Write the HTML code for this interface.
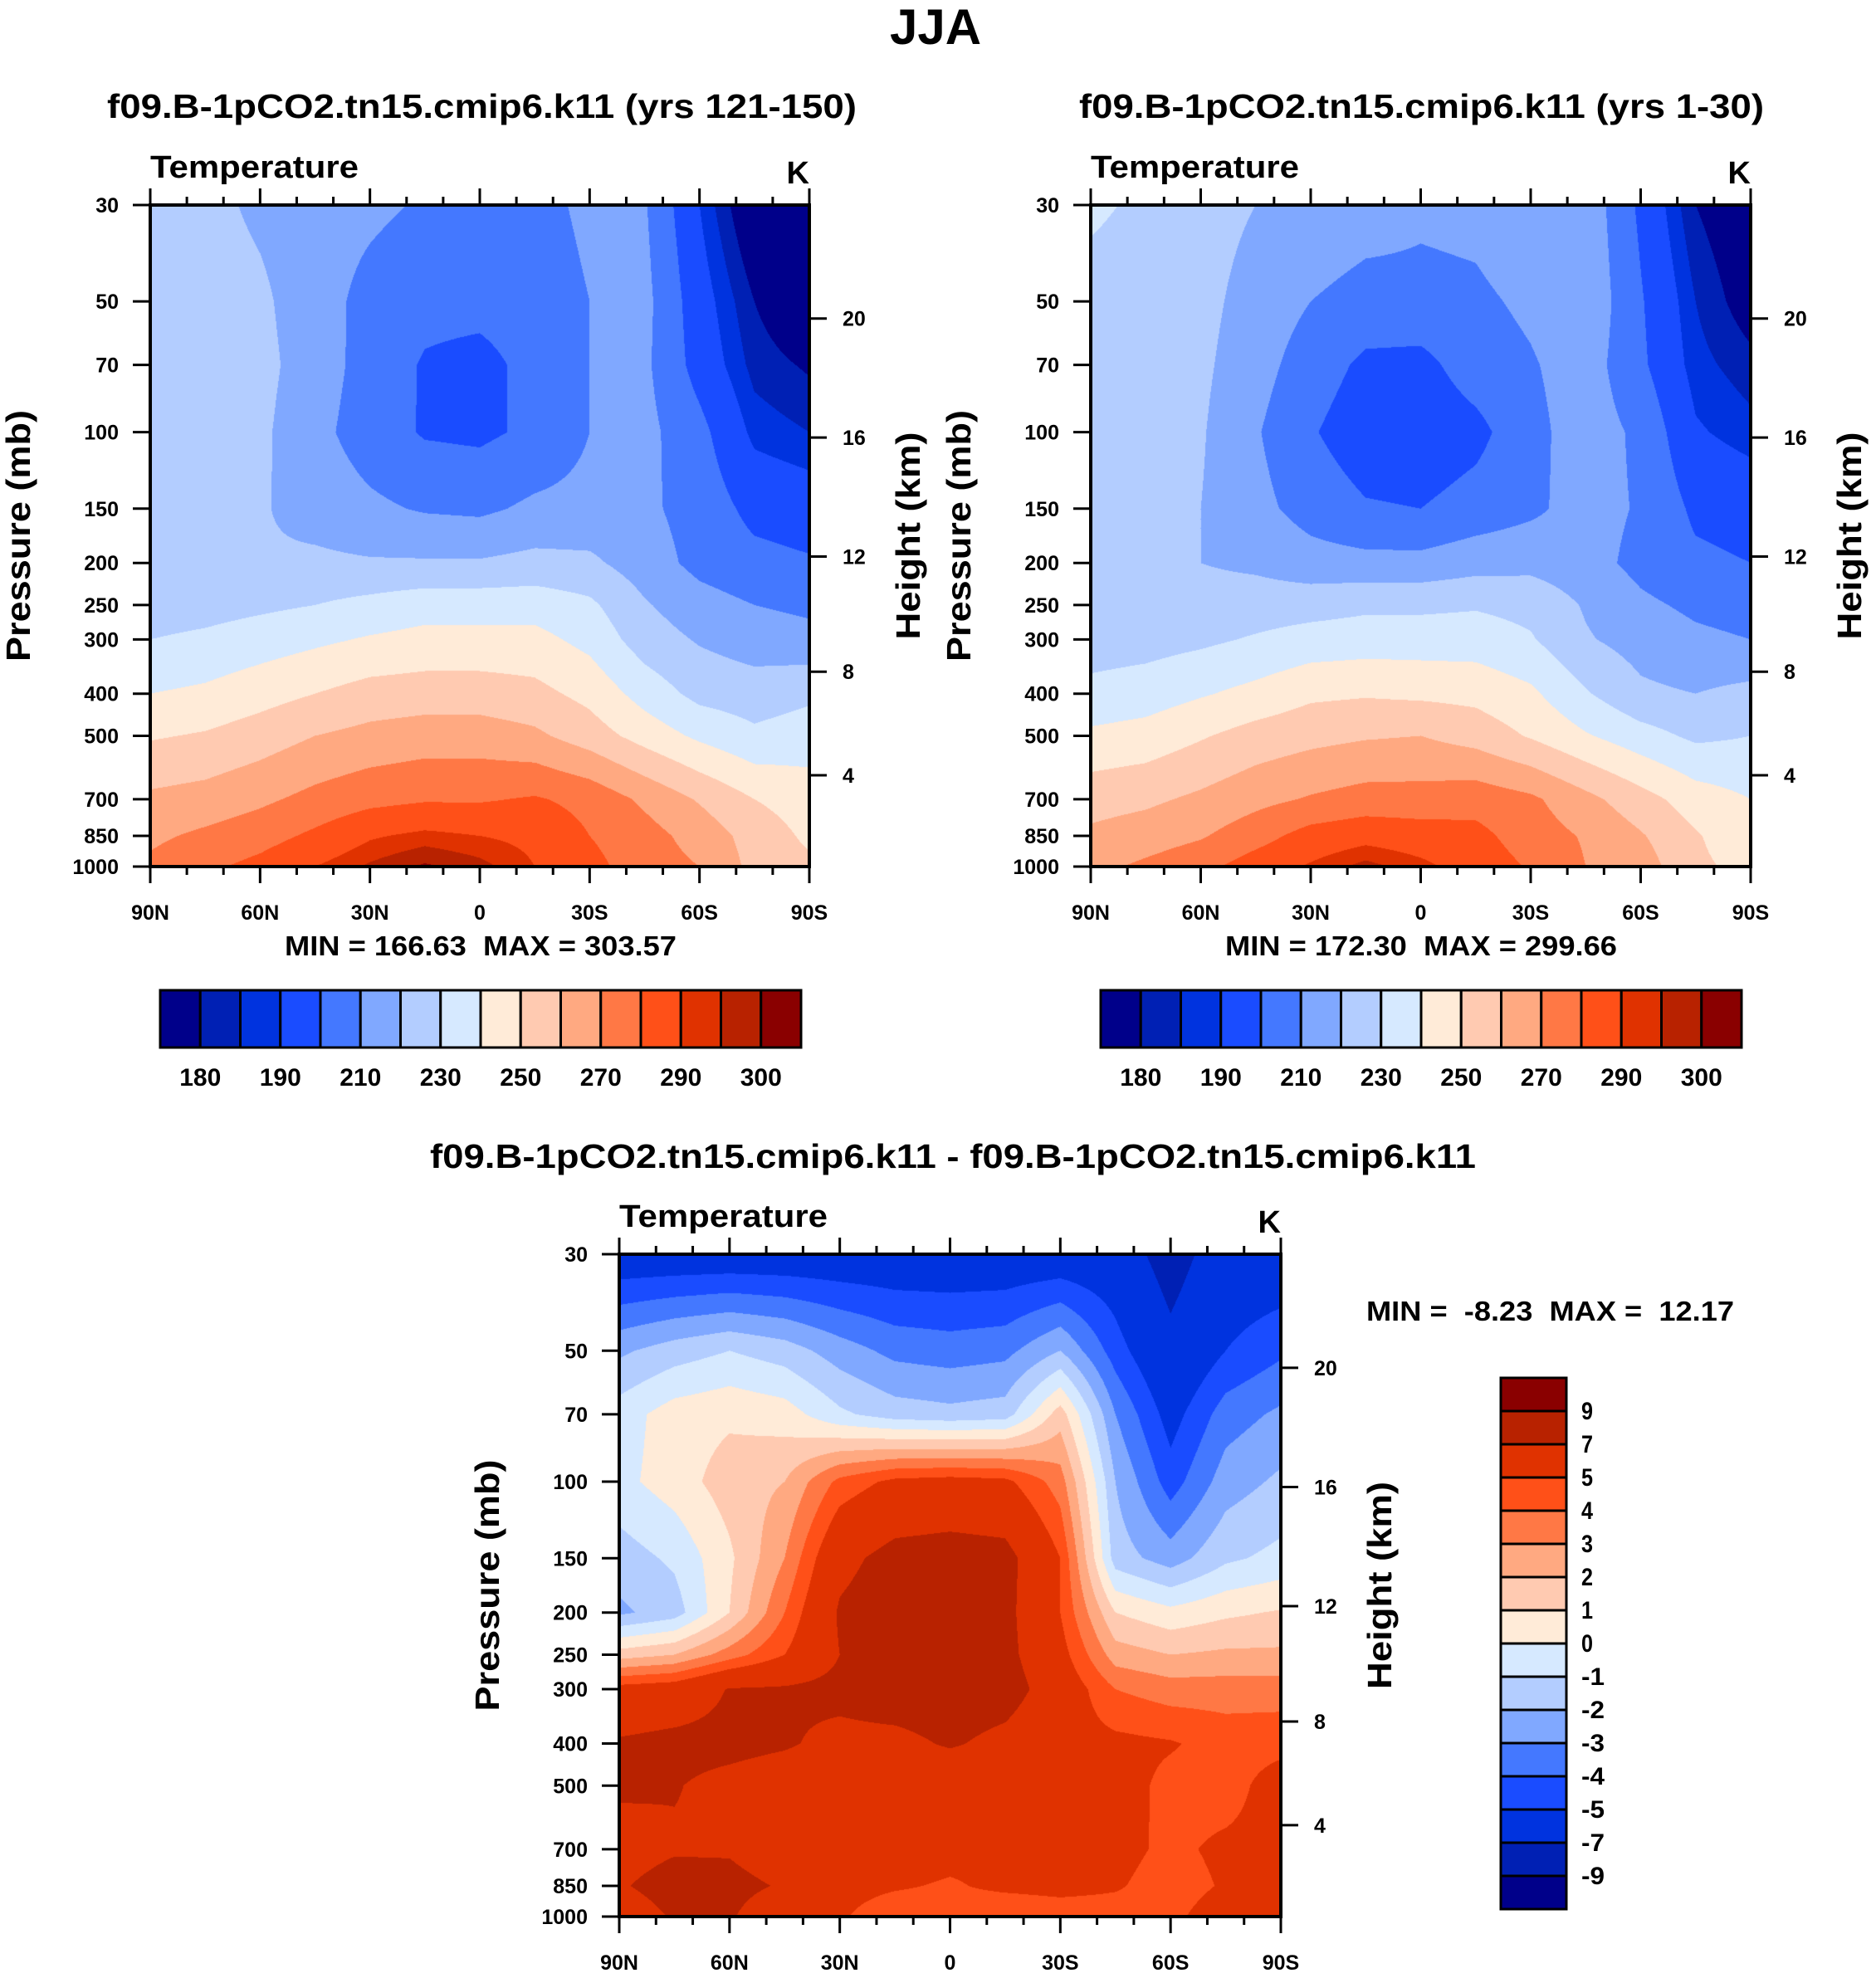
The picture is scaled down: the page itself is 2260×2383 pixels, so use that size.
<!DOCTYPE html>
<html><head><meta charset="utf-8"><style>
html,body{margin:0;padding:0;background:#fff;}
#wrap{position:relative;width:2260px;height:2383px;overflow:hidden;}
canvas{position:absolute;}
svg{position:absolute;left:0;top:0;}
text{font-family:"Liberation Sans",sans-serif;font-weight:bold;fill:#000;white-space:pre;}
</style></head><body>
<div id="wrap">
<canvas id="c1"></canvas>
<canvas id="c2"></canvas>
<canvas id="c3"></canvas>
<svg id="s" width="2260" height="2383"></svg>
</div>
<script>
// ---- data ----
const lats = [90,75,60,45,30,15,0,-15,-30,-45,-60,-75,-90];
const plevs = [30,50,70,100,150,200,250,300,400,500,700,850,1000];
const t1_30 = [225,223,218,214,212,209,206,207,212,211,190,172,167];
const t1_50 = [226,225,222,214,207,203,203,205,210,213,194,180,172];
const t1_70 = [226,225,223,215,206,199,197,203,210,212,196,183,179];
const t1_100 = [226,225,222,213,205,199,198,202,210,213,203,188,185];
const t1_150 = [225,224,221,216,212,209,208,212,213,212,206,197,195];
const t1_200 = [224,222,221,222,221,221,221,223,222,215,207,203,201];
const t1_250 = [225,226,228,230,233,236,236,236,232,221,214,210,208];
const t1_300 = [230,232,235,238,241,243,243,243,237,225,219,215,213];
const t1_400 = [240,242,246,250,254,255,255,253,247,236,227,225,228];
const t1_500 = [249,251,255,260,263,265,265,262,255,246,238,232,235];
const t1_700 = [262,264,268,273,277,279,279,281,277,268,259,250,245];
const t1_850 = [268,272,276,282,289,292,290,288,280,274,266,256,248];
const t1_1000 = [272,278,283,290,296,301,297,290,283,275,270,257,252];
const t2_30 = [231,229,224,220,218,215,212,213,218,217,198,180,173];
const t2_50 = [228,227,223,216,210,206,207,208,212,218,201,185,176];
const t2_70 = [227,225,222,214,205,198,197,205,209,215,202,187,182];
const t2_100 = [226,225,221,211,201,194,193,197,207,215,208,191,187];
const t2_150 = [227,225,220,213,206,201,200,204,208,214,209,198,196];
const t2_200 = [226,224,220,218,214,213,213,216,217,214,207,202,200];
const t2_250 = [223,224,224,225,226,228,228,229,227,219,212,208,206];
const t2_300 = [225,226,228,231,234,235,235,235,231,221,216,212,210];
const t2_400 = [233,235,239,243,248,249,248,247,242,231,222,220,223];
const t2_500 = [242,244,249,254,257,259,260,256,249,241,234,228,230];
const t2_700 = [256,258,262,267,271,274,274,276,272,263,254,245,240];
const t2_850 = [262,265,269,276,284,287,285,283,275,269,261,251,243];
const t2_1000 = [267,272,277,285,291,297,292,286,279,270,265,252,247];
const d_30 = [-6,-6,-6,-6,-6,-6,-6,-6,-6,-6,-7.8,-6,-6];
const d_50 = [-2.2,-1.5,-1,-1.5,-2.5,-3.3,-3.5,-3.3,-2,-4.5,-6.5,-5,-4.2];
const d_70 = [-0.5,0.5,0.8,0.5,-0.8,-1.5,-1.7,-1.5,1.5,-3,-5.5,-3.5,-2.8];
const d_100 = [-0.3,0.5,1.5,2,4.3,5.3,5.5,5.3,3.5,-2,-4.5,-2.5,-1.8];
const d_150 = [-1.5,-0.8,0.8,3,6.5,7.6,7.8,7.6,5,-1.5,-2.5,-1.2,-0.7];
const d_200 = [-2.2,-1.5,1,4,7.2,8,8.3,7.5,5,1,0.3,0.8,1.1];
const d_250 = [1.5,2,3.5,5,7,8,8,7.5,5.5,2.5,2,2.2,2.2];
const d_300 = [5.5,5.8,7.1,7.2,7.5,8,8,7.8,6,4,3.5,3.5,3.5];
const d_400 = [7.2,7.5,7.5,7.2,6.5,6.5,7.2,6.5,5.5,5.3,5.1,4.6,4.7];
const d_500 = [7.3,7.1,6.5,6,5.8,5.6,5.5,5.6,5.8,5.5,4.7,4.6,5.5];
const d_700 = [6.2,6.8,6.8,5.8,5.6,5.5,5.3,5.2,5.3,5.3,4.8,5.2,5.3];
const d_850 = [6.8,7.8,7.6,6.8,5.3,5.1,4.9,5.2,5.3,5.1,4.6,5.1,5.3];
const d_1000 = [5.8,7.2,7.2,5.5,5.1,4.5,4.6,4.3,4.5,4.6,4.8,5.5,5.5];
const absLevels = [180,185,190,200,210,220,230,240,250,260,270,280,290,295,300];
const absLabels = ["180","190","210","230","250","270","290","300"];
const diffLevels = [-9,-7,-5,-4,-3,-2,-1,0,1,2,3,4,5,7,9];
const pTicks = [30,50,70,100,150,200,250,300,400,500,700,850,1000];
const hTicks = [4,8,12,16,20];
const xTickLabels = ["90N","60N","30N","0","30S","60S","90S"];
const colors = ["#00008a","#0020b4","#0033df","#1a4cff","#4478ff","#80a8ff","#b3cdff","#d6e9ff","#ffebd8","#ffcab1","#ffa981","#ff7845","#ff5018","#e03200","#b82200","#8a0000"];

const F1=[t1_30,t1_50,t1_70,t1_100,t1_150,t1_200,t1_250,t1_300,t1_400,t1_500,t1_700,t1_850,t1_1000];
const F2=[t2_30,t2_50,t2_70,t2_100,t2_150,t2_200,t2_250,t2_300,t2_400,t2_500,t2_700,t2_850,t2_1000];
const F3=[d_30,d_50,d_70,d_100,d_150,d_200,d_250,d_300,d_400,d_500,d_700,d_850,d_1000];

const NS="http://www.w3.org/2000/svg";
const svg=document.getElementById('s');
function el(tag,attrs,parent){const e=document.createElementNS(NS,tag);for(const k in attrs)e.setAttribute(k,attrs[k]);(parent||svg).appendChild(e);return e;}
function txt(str,attrs){const e=el('text',attrs);e.textContent=str;return e;}

function hex(c){return [parseInt(c.slice(1,3),16),parseInt(c.slice(3,5),16),parseInt(c.slice(5,7),16)];}
const rgb=colors.map(hex);
function band(v,lv){let i=0;while(i<lv.length&&v>=lv[i])i++;return i;}
const lpTop=Math.log(30), lpBot=Math.log(1000);
function yScale(P,p){return P.y+(Math.log(p)-lpTop)/(lpBot-lpTop)*P.h;}
function xScale(P,lat){return P.x+(90-lat)/180*P.w;}
function kmToP(z){const m=z*1000;if(m<=11000)return 1013.25*Math.pow(1-2.25577e-5*m,5.25588);return 226.32*Math.exp(-(m-11000)/6341.6);}
const lpl=plevs.map(Math.log);
function sample(F,lat,lp){
  let fi=(90-lat)/15; let i0=Math.max(0,Math.min(Math.floor(fi),lats.length-2)); let tx=fi-i0;
  let j0=0; while(j0<lpl.length-2&&lp>lpl[j0+1])j0++;
  let ty=(lp-lpl[j0])/(lpl[j0+1]-lpl[j0]); ty=Math.max(0,Math.min(1,ty));
  const a=F[j0][i0],b=F[j0][i0+1],c=F[j0+1][i0],d=F[j0+1][i0+1];
  return (a*(1-tx)+b*tx)*(1-ty)+(c*(1-tx)+d*tx)*ty;
}
function drawField(id,P,F,lv){
  const cv=document.getElementById(id);cv.width=P.w;cv.height=P.h;cv.style.left=P.x+'px';cv.style.top=P.y+'px';
  const ctx=cv.getContext('2d');const im=ctx.createImageData(P.w,P.h);
  for(let y=0;y<P.h;y++){const lp=lpTop+(y+0.5)/P.h*(lpBot-lpTop);
    for(let x=0;x<P.w;x++){const lat=90-(x+0.5)/P.w*180;const v=sample(F,lat,lp);const c=rgb[band(v,lv)];const k=(y*P.w+x)*4;im.data[k]=c[0];im.data[k+1]=c[1];im.data[k+2]=c[2];im.data[k+3]=255;}}
  ctx.putImageData(im,0,0);
}
function axes(P,pre){
  const fr=el('rect',{x:P.x,y:P.y,width:P.w,height:P.h,fill:'none',stroke:'#000','stroke-width':4});
  
  
  const fs=25;
  for(let lat=90;lat>=-90;lat-=10){const x=xScale(P,lat);const major=(lat%30===0);const L=major?20:10;
    el('line',{x1:x,y1:P.y,x2:x,y2:P.y-L,stroke:'#000','stroke-width':3});
    el('line',{x1:x,y1:P.y+P.h,x2:x,y2:P.y+P.h+L,stroke:'#000','stroke-width':3});}
  xTickLabels.forEach((s,i)=>{const x=xScale(P,90-30*i);const t=txt(s,{x:x,y:P.y+P.h+64,'font-size':fs,'text-anchor':'middle'});
    
    });
  pTicks.forEach(p=>{const y=yScale(P,p);el('line',{x1:P.x-21,y1:y,x2:P.x,y2:y,stroke:'#000','stroke-width':3});
    const t=txt(String(p),{x:P.x-38,y:y+9,'font-size':fs,'text-anchor':'end'});
    
    });
  hTicks.forEach(z=>{const y=yScale(P,kmToP(z));el('line',{x1:P.x+P.w,y1:y,x2:P.x+P.w+21,y2:y,stroke:'#000','stroke-width':3});
    const t=txt(String(z),{x:P.x+P.w+40,y:y+9,'font-size':fs});
    
    });
  const tt=txt('Temperature',{x:P.x,y:P.y-33,'font-size':38,textLength:251,lengthAdjust:'spacingAndGlyphs'});
  
  
  const k=txt('K',{x:P.x+P.w,y:P.y-26,'font-size':38,'text-anchor':'end'});
  
  
  const cy=P.y+P.h/2;
  const pl=txt('Pressure (mb)',{x:0,y:0,'font-size':41,'text-anchor':'middle',transform:`translate(${P.x-145},${cy}) rotate(-90)`,textLength:303,lengthAdjust:'spacingAndGlyphs'});
  
  
  const hl=txt('Height (km)',{x:0,y:0,'font-size':41,'text-anchor':'middle',transform:`translate(${P.x+P.w+133},${cy}) rotate(-90)`,textLength:250,lengthAdjust:'spacingAndGlyphs'});
  
  
}
function hbar(x,y,w,h,pre){
  const bw=w/16;
  for(let i=0;i<16;i++){const r=el('rect',{x:x+i*bw,y:y,width:bw,height:h,fill:colors[i],stroke:'#000','stroke-width':3});
    
    }
  absLabels.forEach((s,i)=>{const t=txt(s,{x:x+(2*i+1)*bw,y:y+h+46,'font-size':30,'text-anchor':'middle'});
    
    });
}
const P1={x:181,y:247,w:794,h:797}, P2={x:1314,y:247,w:795,h:797}, P3={x:746,y:1511,w:797,h:798};
drawField('c1',P1,F1,absLevels);drawField('c2',P2,F2,absLevels);drawField('c3',P3,F3,diffLevels);
axes(P1,'left');axes(P2,'right');axes(P3,'diff');

let t=txt('JJA',{x:1127,y:53,'font-size':60,'text-anchor':'middle'});


t=txt('f09.B-1pCO2.tn15.cmip6.k11 (yrs 121-150)',{x:129,y:142,'font-size':41,textLength:903,lengthAdjust:'spacingAndGlyphs'});


t=txt('f09.B-1pCO2.tn15.cmip6.k11 (yrs 1-30)',{x:1300,y:142,'font-size':41,textLength:825,lengthAdjust:'spacingAndGlyphs'});


t=txt('f09.B-1pCO2.tn15.cmip6.k11 - f09.B-1pCO2.tn15.cmip6.k11',{x:518,y:1407,'font-size':41,textLength:1260,lengthAdjust:'spacingAndGlyphs'});


t=txt('MIN = 166.63  MAX = 303.57',{x:343,y:1151,'font-size':33,textLength:472,lengthAdjust:'spacingAndGlyphs'});


t=txt('MIN = 172.30  MAX = 299.66',{x:1476,y:1151,'font-size':33,textLength:472,lengthAdjust:'spacingAndGlyphs'});


t=txt('MIN =  -8.23  MAX =  12.17',{x:1646,y:1591,'font-size':33,textLength:443,lengthAdjust:'spacingAndGlyphs'});


hbar(193,1193,772,69,'left');hbar(1326,1193,772,69,'right');
(function(){const x=1808,y=1660,w=79,h=640,bh=h/16;
  for(let i=0;i<16;i++){const r=el('rect',{x:x,y:y+i*bh,width:w,height:bh,fill:colors[15-i],stroke:'#000','stroke-width':3});
    
    }
  const rev=diffLevels.slice().reverse();
  rev.forEach((v,i)=>{const tt=txt(String(v),{x:x+w+18,y:y+(i+1)*bh+10,'font-size':30,textLength:String(v).length*14,lengthAdjust:'spacingAndGlyphs'});
    
    });
})();
</script>
</body></html>
